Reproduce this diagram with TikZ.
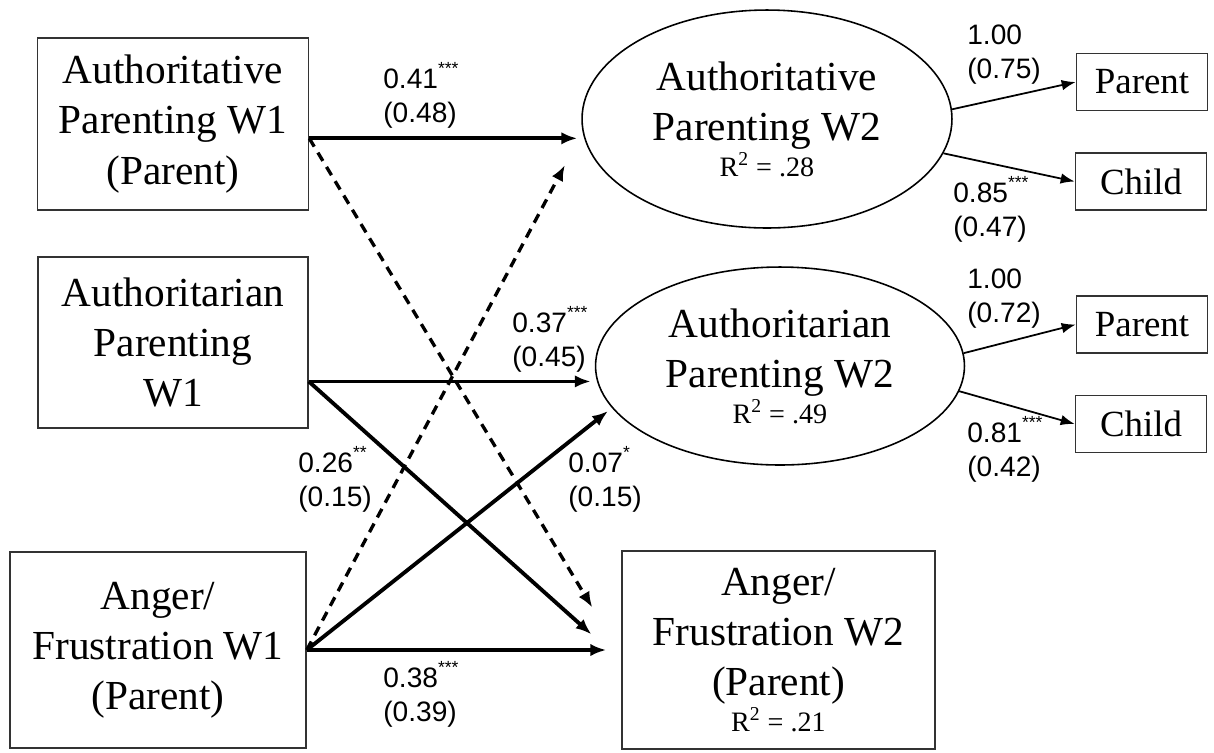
\documentclass[tikz,border=0pt]{standalone}
\usepackage{fontspec}
\setmainfont{Liberation Serif}
\setsansfont{Liberation Sans}
\usetikzlibrary{shapes,shapes.geometric,arrows.meta,calc}
\newcommand{\sig}[1]{\raisebox{0.5em}{\fontsize{10}{10}\selectfont #1}}
\newcommand{\rsq}[1]{{\fontsize{16}{18}\selectfont R\textsuperscript{2} = #1}}

\begin{document}
\begin{tikzpicture}
   		[x=0.02cm,y=-0.02cm,>={Latex[length=9pt,width=7pt]},
   		every node/.style={font=\fontsize{23.5}{28.5}\selectfont,align=center},
   		obs/.style={draw=black!80,line width=0.9pt,rectangle,inner sep=0pt},
   		lat/.style={draw,line width=0.9pt,ellipse,inner sep=0pt},
   		ind/.style={obs,minimum width=2.62cm,minimum height=1.14cm,
   			font=\fontsize{21}{24}\selectfont},
   		coef/.style={font=\sffamily\fontsize{16}{19.3}\selectfont,
   			align=left,anchor=base west,inner sep=0pt},
   		sigpath/.style={->,line width=2.2pt},
   		nspath/.style={->,line width=1.9pt,dash pattern=on 5.5pt off 4pt},
   		loading/.style={-{Latex[length=8pt,width=6pt]},line width=1pt}]
   		\useasboundingbox (0,0) rectangle (1214,752);
   		% wave 1
   		\node[obs,minimum width=5.42cm,minimum height=3.44cm] (aw1) at (173,124)
   			{Authoritative\\Parenting W1\\(Parent)};
   		\node[obs,minimum width=5.40cm,minimum height=3.42cm] (an1) at (173,342.5)
   			{Authoritarian\\Parenting\\W1};
   		\node[obs,minimum width=5.92cm,minimum height=3.92cm] (af1) at (158,650)
   			{Anger/\\Frustration W1\\(Parent)};
   		% wave 2
   		\node[lat,minimum width=7.4cm,minimum height=4.36cm] (aw2) at (767,119)
   			{Authoritative\\Parenting W2\\[-8pt]\rsq{.28}};
   		\node[lat,minimum width=7.38cm,minimum height=3.96cm] (an2) at (780,366)
   			{Authoritarian\\Parenting W2\\[-8pt]\rsq{.49}};
   		\node[obs,minimum width=6.26cm,minimum height=3.96cm] (af2) at (778.5,650)
   			{Anger/\\Frustration W2\\(Parent)\\[-8pt]\rsq{.21}};
   		% indicators
   		\node[ind] (p1) at (1142,82) {Parent};
   		\node[ind] (c1) at (1141,181.5) {Child};
   		\node[ind] (p2) at (1142,324.5) {Parent};
   		\node[ind] (c2) at (1141,424) {Child};
   		% paths
   		\draw[sigpath,shorten >=0.08cm] (aw1.354) -- (aw2.west |- aw1.354);
   		\draw[nspath,shorten >=1.12cm] (aw1.354) -- (af2.182);
   		\draw[nspath,shorten >=0.75cm] (af1.east) -- (aw2.184);
   		\draw[sigpath,shorten >=0.08cm] (an1.344) -- (an2.west |- an1.344);
   		\draw[sigpath,shorten >=0.8cm] (an1.344) -- (af2.184.75);
   		\draw[sigpath,shorten >=0.1cm] (af1.east) -- (an2.194);
   		\draw[sigpath,shorten >=0.3cm] (af1.east) -- (af2.west);
   		\path
   		\foreach \latent/\item in {aw2.3/p1,aw2.349/c1,an2.4/p2,an2.352/c2}
   		{
   			(\latent) edge[loading] (\item.west)
   		};
   		% estimates
   		\node[coef] (w41) at (383,122) {0.41\sig{***}\\(0.48)};
   		\node[coef] (n37) at (512,366) {0.37\sig{***}\\(0.45)};
   		\node[coef] (r26) at (298,506) {0.26\sig{**}\\(0.15)};
   		\node[coef] (r07) at (568,506) {0.07\sig{*}\\(0.15)};
   		\node[coef] (f38) at (383,721) {0.38\sig{***}\\(0.39)};
   		\node[coef] (l1) at (967,78) {1.00\\(0.75)};
   		\node[coef] (l2) at (953,236) {0.85\sig{***}\\(0.47)};
   		\node[coef] (l3) at (967,322) {1.00\\(0.72)};
   		\node[coef] (l4) at (967,476) {0.81\sig{***}\\(0.42)};
\end{tikzpicture}
\end{document}
